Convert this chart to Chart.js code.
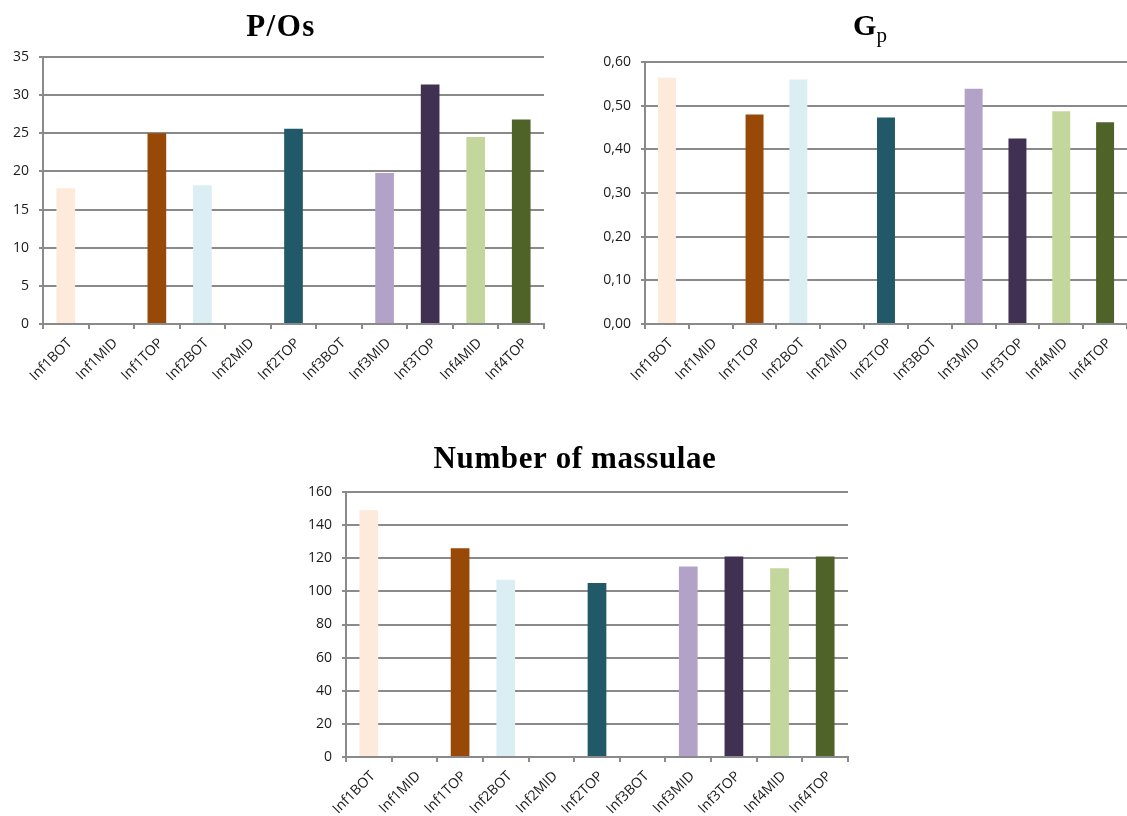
<!DOCTYPE html>
<html>
<head>
<meta charset="utf-8">
<script src="https://cdn.jsdelivr.net/npm/chart.js@4.4.1/dist/chart.umd.min.js"></script>
<style>
  html, body { margin: 0; padding: 0; background: #ffffff; }
  body { width: 1127px; height: 816px; position: relative; overflow: hidden; }
  canvas { position: absolute; display: block; }
</style>
</head>
<body>
<canvas id="pos" width="560" height="410" style="left:0;top:0"></canvas>
<canvas id="gp" width="567" height="410" style="left:560px;top:0"></canvas>
<canvas id="mass" width="600" height="396" style="left:280px;top:420px"></canvas>
<script>
// Samples along the inflorescences
const categories = ['Inf1BOT', 'Inf1MID', 'Inf1TOP', 'Inf2BOT', 'Inf2MID', 'Inf2TOP',
                    'Inf3BOT', 'Inf3MID', 'Inf3TOP', 'Inf4MID', 'Inf4TOP'];
const barColors = ['#FDEADA', '#BFBFBF', '#984807', '#DBEEF4', '#BFBFBF', '#215968',
                   '#BFBFBF', '#B3A2C7', '#403152', '#C3D69B', '#4F6228'];

// Measured values (null = no measurement)
const pOsValues      = [17.8, null, 25.0, 18.2, null, 25.6, null, 19.8, 31.4, 24.5, 26.8];
const gpValues       = [0.564, null, 0.480, 0.560, null, 0.473, null, 0.539, 0.425, 0.487, 0.462];
const massulaeValues = [149, null, 126, 107, null, 105, null, 115, 121, 114, 121];

// Y axis ticks
const pOsTicks      = [0, 5, 10, 15, 20, 25, 30, 35];
const gpTicks       = [0, 0.1, 0.2, 0.3, 0.4, 0.5, 0.6];
const massulaeTicks = [0, 20, 40, 60, 80, 100, 120, 140, 160];

Chart.defaults.animation = false;
Chart.defaults.devicePixelRatio = 1;

const GRID = '#8a8a8a';
const TEXT = '#1a1a1a';
const tickFont = { family: '"Open Sans", "Liberation Sans", sans-serif', size: 14 };

// Title drawn with an optional subscript part
const titlePlugin = {
  id: 'subTitle',
  afterDraw(chart, args, o) {
    const ctx = chart.ctx;
    ctx.save();
    ctx.fillStyle = '#000000';
    ctx.textBaseline = 'alphabetic';
    ctx.textAlign = 'left';
    const mainFont = `bold ${o.size}px "Liberation Serif", "Times New Roman", serif`;
    const subFont = `${o.subSize || 20}px "Liberation Serif", "Times New Roman", serif`;
    ctx.font = mainFont;
    if ('letterSpacing' in ctx) ctx.letterSpacing = (o.spacing || 0) + 'px';
    const wMain = ctx.measureText(o.text).width;
    let wSub = 0;
    if (o.sub) {
      ctx.font = subFont;
      wSub = ctx.measureText(o.sub).width;
    }
    const x0 = o.x - (wMain + wSub) / 2;
    ctx.font = mainFont;
    ctx.fillText(o.text, x0, o.y);
    if (o.sub) {
      ctx.font = subFont;
      ctx.fillText(o.sub, x0 + wMain, o.y + (o.subShift || 7));
    }
    ctx.restore();
  }
};

function makeChart(id, values, ticks, fmt, geo, title) {
  new Chart(document.getElementById(id), {
    type: 'bar',
    plugins: [titlePlugin],
    data: {
      labels: categories,
      datasets: [{
        data: values,
        backgroundColor: barColors,
        borderWidth: 0,
        barPercentage: 0.41,
        categoryPercentage: 1.0
      }]
    },
    options: {
      responsive: false,
      layout: { padding: { left: 0, top: geo.top, right: geo.right, bottom: 0 } },
      plugins: {
        legend: { display: false },
        tooltip: { enabled: false },
        title: { display: false },
        subTitle: title
      },
      scales: {
        x: {
          offset: true,
          grid: {
            offset: true,
            drawOnChartArea: false,
            drawTicks: true,
            tickLength: 5,
            color: GRID,
            lineWidth: 2
          },
          border: { display: true, color: GRID, width: 2 },
          ticks: {
            autoSkip: false,
            maxRotation: 45,
            minRotation: 45,
            padding: 6,
            labelOffset: 4,
            color: TEXT,
            font: tickFont
          },
          afterFit(scale) { scale.height = geo.xHeight; }
        },
        y: {
          min: ticks[0],
          max: ticks[ticks.length - 1],
          afterBuildTicks(scale) { scale.ticks = ticks.map(v => ({ value: v })); },
          grid: {
            color: GRID,
            lineWidth: 2,
            drawTicks: true,
            tickLength: 4
          },
          border: { display: true, color: GRID, width: 2 },
          ticks: {
            padding: 10,
            color: TEXT,
            font: tickFont,
            callback: v => fmt(v)
          },
          afterFit(scale) { scale.width = geo.yWidth; }
        }
      }
    }
  });
}

makeChart('pos', pOsValues, pOsTicks, v => String(v),
  { top: 57, right: 16, yWidth: 43, xHeight: 86 },
  { text: 'P/Os', x: 281, y: 36, size: 31, spacing: 1.5 });

makeChart('gp', gpValues, gpTicks, v => v.toFixed(2).replace('.', ','),
  { top: 62, right: 0, yWidth: 85, xHeight: 86 },
  { text: 'G', sub: 'p', x: 310, y: 35, size: 30, subSize: 21, subShift: 7 });

makeChart('mass', massulaeValues, massulaeTicks, v => String(v),
  { top: 72, right: 32, yWidth: 66, xHeight: 59 },
  { text: 'Number of massulae', x: 295, y: 48, size: 31, spacing: 0.6 });
</script>
</body>
</html>
